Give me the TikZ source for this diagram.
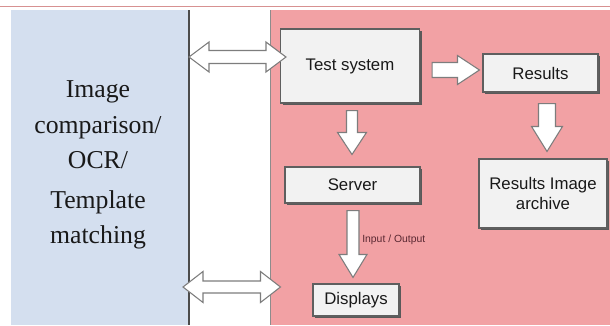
\documentclass[tikz,border=0pt]{standalone}
\usepackage{fontspec}
\setmainfont{Liberation Serif}
\setsansfont{Liberation Sans}
\usetikzlibrary{calc,shadows}
\definecolor{panelblue}{RGB}{212,223,239}
\definecolor{panelpink}{RGB}{242,161,164}
\definecolor{topline}{RGB}{215,145,145}
\definecolor{boxfill}{RGB}{242,242,242}
\definecolor{boxline}{RGB}{95,95,95}
\definecolor{arrline}{RGB}{125,125,125}
\definecolor{labelcol}{RGB}{90,40,50}
\tikzset{
  procbox/.style={draw=boxline, line width=0.8pt, fill=boxfill, inner sep=0pt,
    font=\sffamily\fontsize{12.6}{15}\selectfont, align=center, text=black!90,
    drop shadow={shadow xshift=1.6pt, shadow yshift=-1.6pt, fill=black!65, opacity=1}},
  blockarrow/.style={draw=arrline, line width=0.8pt, fill=white, line join=miter},
}
% vertical down block arrow: #1 start (top), #2 tip, #3 shaft half, #4 head half, #5 head length (px)
\newcommand\blkdown[5]{%
  \draw[blockarrow] let \p1=(#1), \p2=(#2) in
    ({\x2-#3*0.75pt},\y1) -- ({\x2-#3*0.75pt},{\y2+#5*0.75pt}) --
    ({\x2-#4*0.75pt},{\y2+#5*0.75pt}) -- (\x2,\y2) --
    ({\x2+#4*0.75pt},{\y2+#5*0.75pt}) -- ({\x2+#3*0.75pt},{\y2+#5*0.75pt}) --
    ({\x2+#3*0.75pt},\y1) -- cycle;}
% horizontal right block arrow: #1 start (left), #2 tip
\newcommand\blkright[5]{%
  \draw[blockarrow] let \p1=(#1), \p2=(#2) in
    (\x1,{\y2+#3*0.75pt}) -- ({\x2-#5*0.75pt},{\y2+#3*0.75pt}) --
    ({\x2-#5*0.75pt},{\y2+#4*0.75pt}) -- (\x2,\y2) --
    ({\x2-#5*0.75pt},{\y2-#4*0.75pt}) -- ({\x2-#5*0.75pt},{\y2-#3*0.75pt}) --
    (\x1,{\y2-#3*0.75pt}) -- cycle;}
% horizontal double block arrow: #1 left tip, #2 right tip
\newcommand\blkdouble[5]{%
  \draw[blockarrow] let \p1=(#1), \p2=(#2) in
    (\x1,\y2) -- ({\x1+#5*0.75pt},{\y2+#4*0.75pt}) -- ({\x1+#5*0.75pt},{\y2+#3*0.75pt}) --
    ({\x2-#5*0.75pt},{\y2+#3*0.75pt}) -- ({\x2-#5*0.75pt},{\y2+#4*0.75pt}) --
    (\x2,\y2) --
    ({\x2-#5*0.75pt},{\y2-#4*0.75pt}) -- ({\x2-#5*0.75pt},{\y2-#3*0.75pt}) --
    ({\x1+#5*0.75pt},{\y2-#3*0.75pt}) -- ({\x1+#5*0.75pt},{\y2-#4*0.75pt}) -- cycle;}
\begin{document}
\begin{tikzpicture}[x=0.75pt, y=-0.75pt]
\useasboundingbox (0,0) rectangle (610,325);
\fill[white] (0,0) rectangle (610,325);
% top line
\draw[topline, line width=1.2pt] (0,6.5) -- (610,6.5);
% panels
\fill[panelblue] (11,10) rectangle (189,325);
\coordinate (blueedge) at (189,57);
\fill[panelpink] (270,10) rectangle (610,325);
\draw[black!45, line width=0.5pt] (270,10) -- (270,325);
\draw[black!70, line width=1.3pt] (189,10) -- (189,325);
% blue panel text
\node[font=\rmfamily\fontsize{19.3}{26.3}\selectfont, align=center, text=black!90] (bluetext) at (98,165)
  {Image\\comparison/\\OCR/\\[3.8pt]Template\\matching};
% boxes
\node[procbox, minimum width=139*0.75pt, minimum height=74*0.75pt] (ts) at (350,66) {Test system};
\node[procbox, minimum width=115*0.75pt, minimum height=38*0.75pt] (res) at (540.5,73) {Results};
\node[procbox, minimum width=128*0.75pt, minimum height=69*0.75pt] (arch) at (543,193.5) {Results Image\\archive};
\node[procbox, minimum width=135*0.75pt, minimum height=36*0.75pt] (srv) at (352.5,185) {Server};
\node[procbox, minimum width=86*0.75pt, minimum height=32*0.75pt] (disp) at (356,300) {Displays};
% connectors
\coordinate (tsin) at ($(ts.west)+(6,-9)$);
\blkdouble{blueedge}{tsin}{6.5}{15}{20}
\coordinate (dl) at (183,287);
\coordinate (dr) at ($(disp.west)+(-32,-13)$);
\blkdouble{dl}{dr}{6}{15.5}{20}
\coordinate (tr1) at ($(ts.east)+(12,4)$);
\coordinate (tr2) at ($(res.west)+(-3,-3)$);
\blkright{tr1}{tr2}{7.5}{14.5}{22}
\coordinate (ts1) at ($(ts.south)+(2,7)$);
\coordinate (ts2) at ($(srv.north)+(-0.5,-12)$);
\blkdown{ts1}{ts2}{5.5}{14.5}{22}
\coordinate (r1) at ($(res.south)+(6.5,11)$);
\coordinate (r2) at ($(arch.north)+(4,-7)$);
\blkdown{r1}{r2}{8.5}{15.5}{25}
\coordinate (s1) at ($(srv.south)+(0.5,7)$);
\coordinate (s2) at ($(disp.north)+(-3,-6)$);
\blkdown{s1}{s2}{6}{14}{23}
\node[anchor=west, font=\sffamily\fontsize{7.8}{9}\selectfont, text=labelcol, inner sep=0pt] (io) at (362,240) {Input / Output};
\end{tikzpicture}
\end{document}
